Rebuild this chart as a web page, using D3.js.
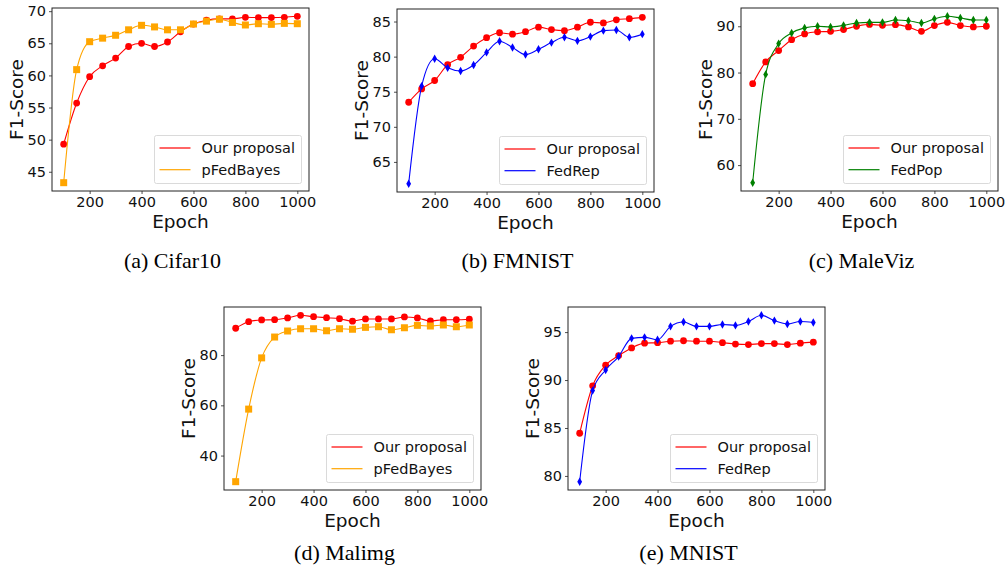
<!DOCTYPE html>
<html>
<head>
<meta charset="utf-8">
<script src="https://cdn.jsdelivr.net/npm/d3@7"></script>
<style>
html,body{margin:0;padding:0;background:#fff;}
svg{display:block;}
</style>
</head>
<body>
<svg id="chart" width="1006" height="570"></svg>
<script>
const epochs = [100,150,200,250,300,350,400,450,500,550,600,650,700,750,800,850,900,950,1000];
const xTicks = [200,400,600,800,1000];

const cifarOurs      = [49.3,55.7,59.8,61.5,62.7,64.5,65.0,64.5,65.2,66.8,68.0,68.6,68.8,68.8,69.05,69.0,69.0,69.05,69.2];
const cifarPFedBayes = [43.3,60.9,65.25,65.8,66.25,67.1,67.8,67.55,67.1,67.1,68.0,68.45,68.75,68.25,67.85,68.05,67.95,68.1,68.05];
const cifarYTicks    = [45,50,55,60,65,70];

const fmnistOurs   = [73.5,75.4,76.6,78.85,79.9,81.5,82.7,83.4,83.2,83.55,84.2,83.85,83.7,84.2,84.9,84.8,85.25,85.4,85.6];
const fmnistFedRep = [61.9,75.8,79.7,78.4,77.95,78.8,80.6,82.2,81.3,80.3,81.05,82.0,82.75,82.25,82.85,83.7,83.8,82.75,83.2];
const fmnistYTicks = [65,70,75,80,85];

const malevizOurs   = [77.6,82.3,84.75,87.1,88.35,88.8,88.9,89.3,90.0,90.4,90.2,90.35,89.85,88.9,90.15,90.85,90.15,89.85,90.0];
const malevizFedPop = [56.2,79.6,86.25,88.55,89.65,90.0,89.85,90.2,90.7,90.85,90.85,91.35,91.2,90.7,91.6,92.15,91.8,91.35,91.35];
const malevizYTicks = [60,70,80,90];

const malimgOurs      = [90.7,93.3,94.0,94.1,94.8,95.85,95.3,94.9,94.5,93.5,94.4,94.4,94.4,95.2,94.8,93.6,94.1,94.1,94.3];
const malimgPFedBayes = [29.6,58.5,78.9,87.2,89.6,90.5,90.5,89.7,90.5,90.3,91.05,91.3,90.1,90.9,91.85,91.6,92.0,91.3,92.0];
const malimgYTicks    = [40,60,80];

const mnistOurs   = [84.45,89.4,91.55,92.55,93.35,93.85,93.9,94.05,94.1,94.05,94.05,93.9,93.75,93.7,93.8,93.8,93.7,93.85,93.95];
const mnistFedRep = [79.4,88.9,91.05,92.45,94.35,94.45,94.2,95.6,96.05,95.6,95.6,95.8,95.7,96.1,96.75,96.2,95.85,96.1,96.0];
const mnistYTicks = [80,85,90,95];

const panels = [
  {caption:"(a) Cifar10", ours:cifarOurs, base:cifarPFedBayes, baseName:"pFedBayes", color:"#ffa500", marker:"square", yTicks:cifarYTicks, left:52, top:8, capY:260},
  {caption:"(b) FMNIST", ours:fmnistOurs, base:fmnistFedRep, baseName:"FedRep", color:"#0000ff", marker:"diamond", yTicks:fmnistYTicks, left:397, top:9, capY:259},
  {caption:"(c) MaleViz", ours:malevizOurs, base:malevizFedPop, baseName:"FedPop", color:"#008000", marker:"diamond", yTicks:malevizYTicks, left:741, top:8, capY:260},
  {caption:"(d) Malimg", ours:malimgOurs, base:malimgPFedBayes, baseName:"pFedBayes", color:"#ffa500", marker:"square", yTicks:malimgYTicks, left:224, top:307, capY:253},
  {caption:"(e) MNIST", ours:mnistOurs, base:mnistFedRep, baseName:"FedRep", color:"#0000ff", marker:"diamond", yTicks:mnistYTicks, left:568, top:307, capY:253}
];

const W = 257, H = 183;
const svg = d3.select("#chart");
svg.append("rect").attr("width",1006).attr("height",570).attr("fill","#fff");
const font = "DejaVu Sans, sans-serif";

panels.forEach(p => {
  const g = svg.append("g").attr("transform",`translate(${p.left},${p.top})`);
  const xExt = d3.extent(epochs), xr = xExt[1]-xExt[0];
  const x = d3.scaleLinear().domain([xExt[0]-0.05*xr, xExt[1]+0.05*xr]).range([0,W]);
  const all = p.ours.concat(p.base);
  const yExt = d3.extent(all), yr = yExt[1]-yExt[0];
  const y = d3.scaleLinear().domain([yExt[0]-0.05*yr, yExt[1]+0.05*yr]).range([H,0]);

  const xAxis = g.append("g").attr("transform",`translate(0,${H})`)
    .call(d3.axisBottom(x).tickValues(xTicks).tickSize(3).tickPadding(3).tickFormat(d3.format("d")));
  const yAxis = g.append("g")
    .call(d3.axisLeft(y).tickValues(p.yTicks).tickSize(3).tickPadding(3).tickFormat(d3.format("d")));
  [xAxis,yAxis].forEach(a=>{
    a.select(".domain").remove();
    a.selectAll("line").attr("stroke","#222").attr("stroke-width",0.8);
    a.selectAll("text").attr("font-family",font).attr("font-size",14.5).attr("fill","#111");
  });

  const series = [
    {vals:p.base, color:p.color, marker:p.marker},
    {vals:p.ours, color:"#ff0000", marker:"circle"}
  ];
  const line = d3.line().x((d,i)=>x(epochs[i])).y(d=>y(d)).curve(d3.curveMonotoneX);
  const order = [series[1], series[0]];
  order.forEach(s=>{
    g.append("path").attr("d",line(s.vals)).attr("fill","none").attr("stroke",s.color).attr("stroke-width",1.1);
    const mg = g.append("g").attr("fill",s.color);
    s.vals.forEach((v,i)=>{
      const cx = x(epochs[i]), cy = y(v);
      if(s.marker==="circle"){
        mg.append("circle").attr("cx",cx).attr("cy",cy).attr("r",3.4);
      } else if(s.marker==="square"){
        mg.append("rect").attr("x",cx-3.5).attr("y",cy-3.5).attr("width",7).attr("height",7);
      } else {
        mg.append("path").attr("d",`M${cx},${cy-4.2}L${cx+2.4},${cy}L${cx},${cy+4.2}L${cx-2.4},${cy}Z`);
      }
    });
  });

  g.append("rect").attr("width",W).attr("height",H).attr("fill","none").attr("stroke","#222").attr("stroke-width",1);

  g.append("text").attr("x",W/2).attr("y",H+37).attr("text-anchor","middle")
    .attr("font-family",font).attr("font-size",18.5).attr("fill","#111").text("Epoch");
  g.append("text").attr("transform",`translate(-29,${H/2}) rotate(-90)`).attr("text-anchor","middle")
    .attr("font-family",font).attr("font-size",18.5).attr("fill","#111").text("F1-Score");

  const lw = 147, lh = 48;
  const lg = g.append("g").attr("transform",`translate(${W-7.5-lw},${H-7.5-lh})`);
  lg.append("rect").attr("width",lw).attr("height",lh).attr("rx",2).attr("fill","#fff").attr("fill-opacity",0.8)
    .attr("stroke","#d0d0d0").attr("stroke-width",0.8);
  const items = [{name:"Our proposal", color:"#ff0000"},{name:p.baseName, color:p.color}];
  items.forEach((it,k)=>{
    const yy = 12.5 + k*21.7;
    lg.append("line").attr("x1",5).attr("x2",36).attr("y1",yy).attr("y2",yy).attr("stroke",it.color).attr("stroke-width",1.2);
    lg.append("text").attr("x",47).attr("y",yy+5).attr("font-family",font).attr("font-size",14.5).attr("fill","#111").text(it.name);
  });

  g.append("text").attr("x",W/2 - 8).attr("y",p.capY).attr("text-anchor","middle")
    .attr("font-family","Liberation Serif, Times New Roman, serif").attr("font-size",22).attr("fill","#000").text(p.caption);
});
</script>
</body>
</html>
